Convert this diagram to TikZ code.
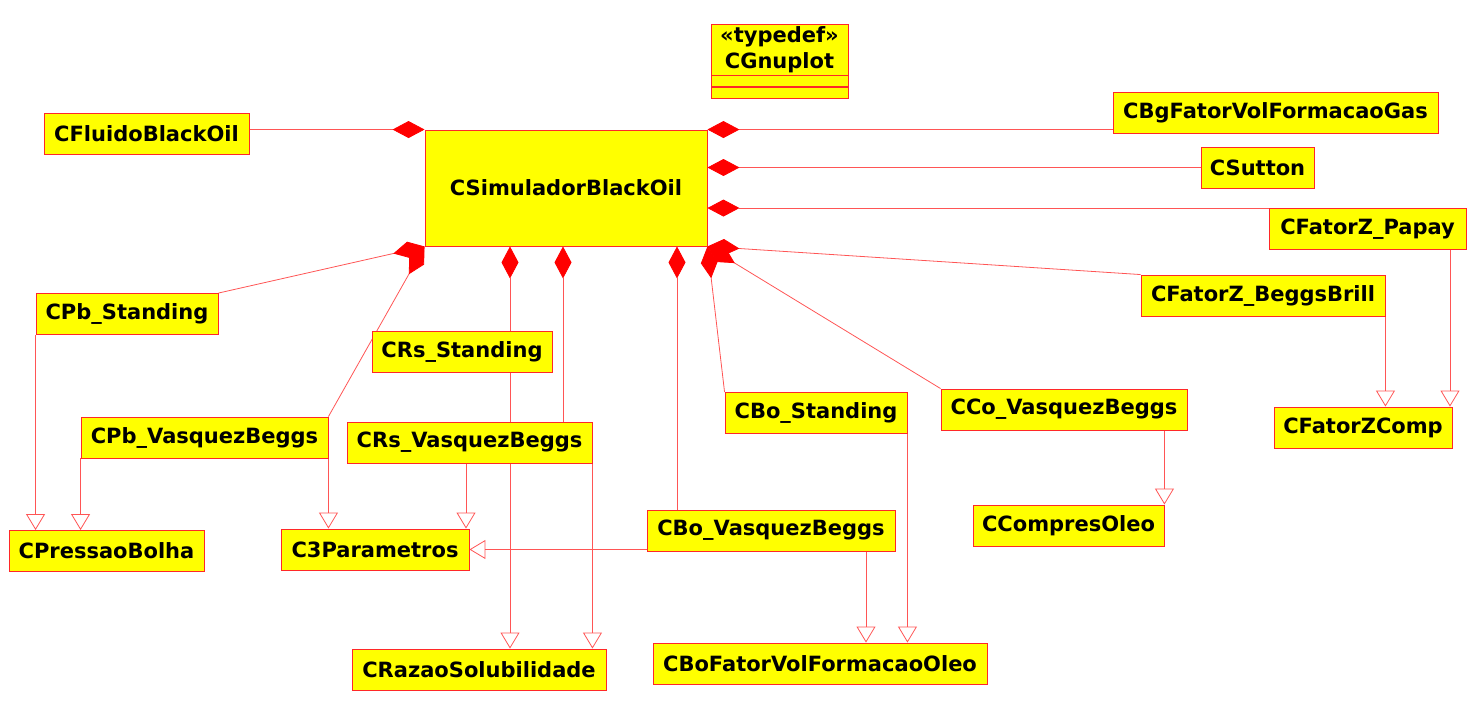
\documentclass[tikz,border=0pt]{standalone}
\usepackage{fontspec}
\setmainfont{DejaVu Sans}
\usetikzlibrary{positioning,arrows.meta,backgrounds}
\definecolor{umlyellow}{RGB}{255,255,0}
\definecolor{umlred}{RGB}{255,40,40}
\definecolor{umlline}{RGB}{255,85,85}
\tikzset{x=1pt, y=-1pt, % coordinates in pixels, y grows downwards
every node/.style={font=\fontsize{21}{26}\selectfont\bfseries}, % bold class names
class/.style={draw=umlred, fill=umlyellow, line width=0.9pt, minimum height=41pt, inner sep=0pt}, % a class box
comp/.style={draw=umlline, line width=0.8pt, -{Diamond[length=32pt,width=17pt,color=red]}}, % composition
inherit/.style={draw=umlline, line width=0.8pt, -{Triangle[open,length=16pt,width=19pt]}}, % generalization
}

\begin{document}
\begin{tikzpicture}
\useasboundingbox (0,0) rectangle (1470,712);

\node[class, minimum width=137pt, minimum height=51pt, align=center] (gnuplot) at (779.5,49.5) {«typedef»\\CGnuplot};
\node[class, minimum width=137pt, minimum height=11pt, below=0pt of gnuplot] (gnuattr) {};
\node[class, minimum width=137pt, minimum height=11pt, below=0pt of gnuattr] (gnuops) {};

\node[class, minimum width=282pt, minimum height=116pt] (sim) at (566,188) {CSimuladorBlackOil};
\node[class, minimum width=205pt] (fluido) at (146.5,133.5) {CFluidoBlackOil};
\node[class, minimum width=325pt] (bg) at (1275.5,112.5) {CBgFatorVolFormacaoGas};
\node[class, minimum width=113pt] (sutton) at (1257.5,167.5) {CSutton};
\node[class, minimum width=197pt] (papay) at (1367.5,229) {CFatorZ\_Papay};
\node[class, minimum width=244pt] (beggsbrill) at (1263,295.5) {CFatorZ\_BeggsBrill};
\node[class, minimum width=182pt] (pbstand) at (127,314) {CPb\_Standing};
\node[class, minimum width=180pt] (rsstand) at (462,351.5) {CRs\_Standing};
\node[class, minimum width=247pt] (pbvb) at (204.5,437.5) {CPb\_VasquezBeggs};
\node[class, minimum width=245pt] (rsvb) at (469.5,442.5) {CRs\_VasquezBeggs};
\node[class, minimum width=182pt] (bostand) at (816,413) {CBo\_Standing};
\node[class, minimum width=246pt] (covb) at (1064,409.5) {CCo\_VasquezBeggs};
\node[class, minimum width=178pt] (fzcomp) at (1363,427.5) {CFatorZComp};
\node[class, minimum width=195pt] (pressao) at (106.5,551) {CPressaoBolha};
\node[class, minimum width=188pt] (param) at (375,549.5) {C3Parametros};
\node[class, minimum width=248pt] (bovb) at (771,530.5) {CBo\_VasquezBeggs};
\node[class, minimum width=191pt] (compres) at (1068.5,525.5) {CCompresOleo};
\node[class, minimum width=254pt] (razao) at (479,669.5) {CRazaoSolubilidade};
\node[class, minimum width=334pt] (bofator) at (820,663.5) {CBoFatorVolFormacaoOleo};

\coordinate (rsx) at (510,0);
\coordinate (rsvbx) at (563,0);
\coordinate (rsvbdown) at (466,0);
\coordinate (bovbx) at (677,0);
\coordinate (bovbdown) at (866,0);
\coordinate (papaydown) at (1450,0);

\begin{pgfonlayer}{background}
\draw
(fluido.east |- sim.north west) edge[comp] (sim.north west)
(bg.west |- sim.north east) edge[comp] (sim.north east)
(sutton.west) edge[comp] (sutton.west -| sim.east)
(papay.north west) edge[comp] (papay.north west -| sim.east)
(beggsbrill.north west) edge[comp] (sim.south east)
(covb.north west) edge[comp] (sim.south east)
(bostand.north west) edge[comp] (sim.south east)
(pbstand.north east) edge[comp] (sim.south west)
(pbvb.north east) edge[comp] (sim.south west)
(rsstand.north -| rsx) edge[comp] (sim.south -| rsx)
(rsvb.north -| rsvbx) edge[comp] (sim.south -| rsvbx)
(bovb.north -| bovbx) edge[comp] (sim.south -| bovbx);

\draw
(pbstand.south west) edge[inherit] (pbstand.south west |- pressao.north)
(pbvb.south west) edge[inherit] (pbvb.south west |- pressao.north)
(pbvb.south east) edge[inherit] (pbvb.south east |- param.north)
(rsvb.south -| rsvbdown) edge[inherit] (param.north -| rsvbdown)
(rsstand.south -| rsx) edge[inherit] (razao.north -| rsx)
(rsvb.south east) edge[inherit] (rsvb.south east |- razao.north)
(bovb.west |- param.east) edge[inherit] (param.east)
(bovb.south -| bovbdown) edge[inherit] (bofator.north -| bovbdown)
(bostand.south east) edge[inherit] (bostand.south east |- bofator.north)
(compres.north east |- covb.south) edge[inherit] (compres.north east)
(beggsbrill.south east) edge[inherit] (beggsbrill.south east |- fzcomp.north)
(papay.south -| papaydown) edge[inherit] (fzcomp.north -| papaydown);
\end{pgfonlayer}

\end{tikzpicture}
\end{document}
